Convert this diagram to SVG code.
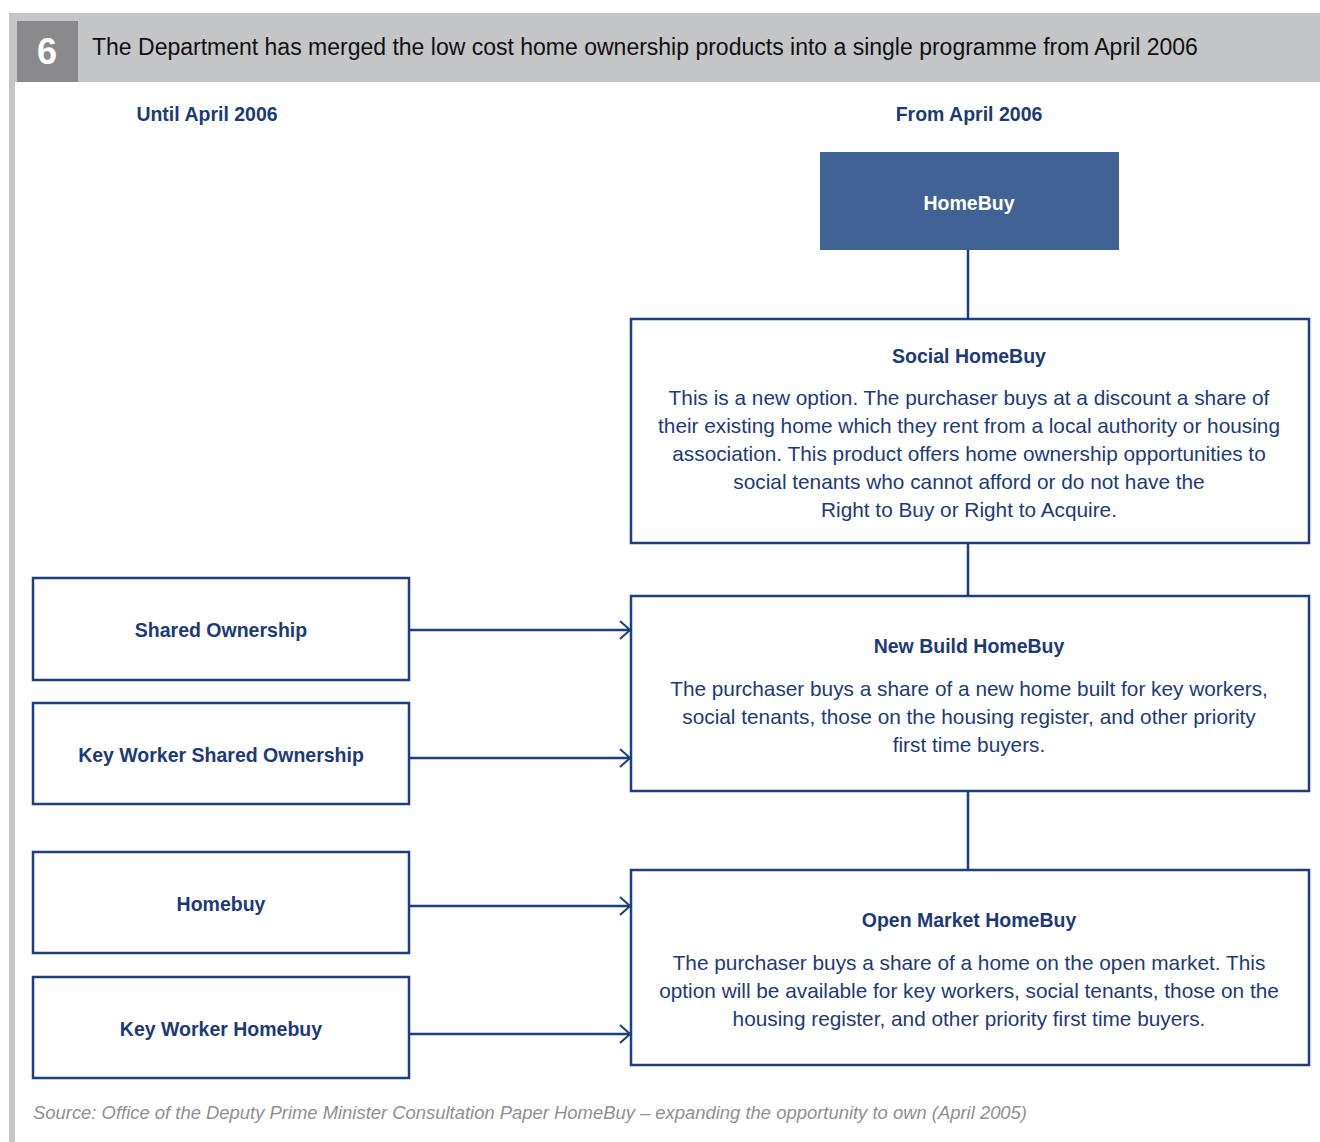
<svg xmlns="http://www.w3.org/2000/svg" width="1320" height="1142" viewBox="0 0 1320 1142">
<style>
.box{fill:#fff;stroke:#1d3f7d;stroke-width:2.5}
.conn{stroke:#1d3f7d;stroke-width:2.5;fill:none}
.t{font-family:"Liberation Sans",Arial,sans-serif;fill:#1d3a78;text-anchor:middle}
.h{font-weight:bold;font-size:19.5px}
.b{font-size:20.8px}
</style>
<defs>
<marker id="arr" viewBox="0 0 12 20" refX="11" refY="10" markerWidth="12" markerHeight="20" markerUnits="userSpaceOnUse" orient="auto">
<path d="M1,1 L11,10 L1,19" fill="none" stroke="#1d3f7d" stroke-width="2"/>
</marker>
</defs>
<rect x="0" y="0" width="1320" height="1142" fill="#fff"/>
<g id="frame">
<rect x="9" y="13" width="1311" height="69" fill="#c4c5c7"/>
<rect x="9" y="82" width="6" height="1060" fill="#c4c5c7"/>
<rect x="17" y="21" width="61" height="61" fill="#8a8a8c"/>
<text x="47" y="64" font-family="Liberation Sans,Arial,sans-serif" font-weight="bold" font-size="36" fill="#fff" text-anchor="middle">6</text>
<text x="92" y="55" font-family="Liberation Sans,Arial,sans-serif" font-size="23" fill="#111">The Department has merged the low cost home ownership products into a single programme from April 2006</text>
<text class="t h" x="207" y="121">Until April 2006</text>
<text class="t h" x="969" y="121">From April 2006</text>
<text x="33" y="1119" font-family="Liberation Sans,Arial,sans-serif" font-style="italic" font-size="18" fill="#8f8f91" textLength="994" lengthAdjust="spacingAndGlyphs">Source: Office of the Deputy Prime Minister Consultation Paper HomeBuy – expanding the opportunity to own (April 2005)</text>
</g>
<g id="connectors">
<line class="conn" x1="968" y1="250" x2="968" y2="319"/>
<line class="conn" x1="968" y1="543" x2="968" y2="596"/>
<line class="conn" x1="968" y1="791" x2="968" y2="870"/>
<line class="conn" x1="409" y1="630" x2="630" y2="630" marker-end="url(#arr)"/>
<line class="conn" x1="409" y1="758" x2="630" y2="758" marker-end="url(#arr)"/>
<line class="conn" x1="409" y1="906" x2="630" y2="906" marker-end="url(#arr)"/>
<line class="conn" x1="409" y1="1034" x2="630" y2="1034" marker-end="url(#arr)"/>
</g>
<g id="homebuy">
<rect x="820" y="152" width="299" height="98" fill="#416294"/>
<text class="t h" x="969" y="210" style="fill:#fff">HomeBuy</text>
</g>
<g id="social-homebuy">
<rect class="box" x="631" y="319" width="678" height="224"/>
<text class="t h" x="969" y="363">Social HomeBuy</text>
<text class="t b" x="969" y="405">This is a new option. The purchaser buys at a discount a share of</text>
<text class="t b" x="969" y="433">their existing home which they rent from a local authority or housing</text>
<text class="t b" x="969" y="461">association. This product offers home ownership opportunities to</text>
<text class="t b" x="969" y="489">social tenants who cannot afford or do not have the</text>
<text class="t b" x="969" y="517">Right to Buy or Right to Acquire.</text>
</g>
<g id="new-build-homebuy">
<rect class="box" x="631" y="596" width="678" height="195"/>
<text class="t h" x="969" y="653">New Build HomeBuy</text>
<text class="t b" x="969" y="696">The purchaser buys a share of a new home built for key workers,</text>
<text class="t b" x="969" y="724">social tenants, those on the housing register, and other priority</text>
<text class="t b" x="969" y="752">first time buyers.</text>
</g>
<g id="open-market-homebuy">
<rect class="box" x="631" y="870" width="678" height="195"/>
<text class="t h" x="969" y="927">Open Market HomeBuy</text>
<text class="t b" x="969" y="970">The purchaser buys a share of a home on the open market. This</text>
<text class="t b" x="969" y="998">option will be available for key workers, social tenants, those on the</text>
<text class="t b" x="969" y="1026">housing register, and other priority first time buyers.</text>
</g>
<g id="shared-ownership">
<rect class="box" x="33" y="578" width="376" height="102"/>
<text class="t h" x="221" y="637">Shared Ownership</text>
</g>
<g id="key-worker-shared-ownership">
<rect class="box" x="33" y="703" width="376" height="101"/>
<text class="t h" x="221" y="762">Key Worker Shared Ownership</text>
</g>
<g id="homebuy-old">
<rect class="box" x="33" y="852" width="376" height="101"/>
<text class="t h" x="221" y="911">Homebuy</text>
</g>
<g id="key-worker-homebuy">
<rect class="box" x="33" y="977" width="376" height="101"/>
<text class="t h" x="221" y="1036">Key Worker Homebuy</text>
</g>
</svg>
